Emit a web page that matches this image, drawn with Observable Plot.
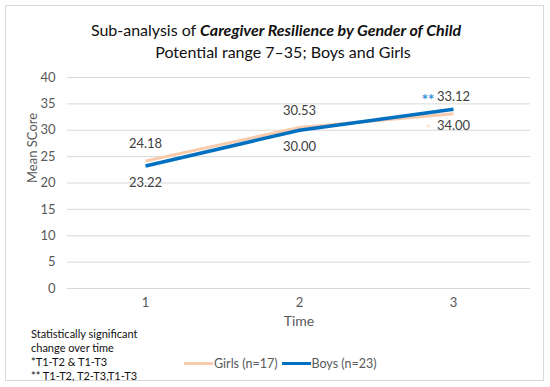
<!DOCTYPE html>
<html>
<head>
<meta charset="utf-8">
<script src="https://cdn.jsdelivr.net/npm/d3@7"></script>
<script src="https://cdn.jsdelivr.net/npm/@observablehq/plot@0.6"></script>
<style>
  html, body { margin: 0; padding: 0; background: #fff; }
  #wrap { position: relative; width: 550px; height: 387px; font-family: Lato, "Open Sans", sans-serif; overflow: hidden; }
  #frame { position: absolute; left: 5px; top: 5px; width: 539px; height: 376px; border: 1px solid #d9d9d9; box-sizing: border-box; }
  .title { position: absolute; left: 0; width: 550px; text-align: center; color: #111; font-size: 16px; white-space: nowrap; }
  #chart { position: absolute; left: 0; top: 62px; }
  #note { position: absolute; left: 31px; top: 327px; font-size: 11px; line-height: 14px; color: #111; }
  #legend { position: absolute; left: 184px; top: 356px; font-size: 12.5px; color: #595959; display: flex; align-items: center; white-space: nowrap; }
  .sw { display: inline-block; width: 29px; height: 3px; margin-right: 1px; }
</style>
</head>
<body>
<div id="wrap">
  <div id="frame"></div>
  <div class="title" style="top:20px; left:1px">Sub-analysis of <b><i>Caregiver Resilience by Gender of Child</i></b></div>
  <div class="title" style="top:42px; left:8px">Potential range 7–35; Boys and Girls</div>
  <div id="chart"></div>
  <div id="note"></div>
  <div id="legend"></div>
</div>
<script>
const times = [1, 2, 3];
const girls = [24.18, 30.53, 33.12];
const boys = [23.22, 30.00, 34.00];
const yTicks = [0, 5, 10, 15, 20, 25, 30, 35, 40];
const seriesNames = ["Girls (n=17)", "Boys (n=23)"];
const seriesColors = ["#F8CBAD", "#0070C0"];
const starsGirls = ["", "", "**"];
const starsBoys = ["", "", "*"];
const noteLines = ["Statistically significant", "change over time", "*T1-T2 & T1-T3", "** T1-T2, T2-T3,T1-T3"];

const girlsRows = times.map((t, i) => ({time: t, value: girls[i], star: starsGirls[i]}));
const boysRows = times.map((t, i) => ({time: t, value: boys[i], star: starsBoys[i]}));

const chart = Plot.plot({
  width: 550, height: 275,
  marginTop: 15, marginBottom: 49, marginLeft: 67, marginRight: 20,
  style: {fontFamily: "Lato, 'Open Sans', sans-serif", background: "transparent", overflow: "visible"},
  x: {type: "point", domain: times, padding: 0.5, label: null},
  y: {domain: [0, 40], label: null},
  marks: [
    Plot.gridY(yTicks, {stroke: "#d9d9d9", strokeOpacity: 1}),
    Plot.axisY(yTicks, {tickSize: 0, tickPadding: 12, fontSize: 13, fill: "#595959", label: null}),
    Plot.axisX(times, {tickSize: 0, tickPadding: 9, fontSize: 13, fill: "#595959", label: null}),
    Plot.lineY(girlsRows, {x: "time", y: "value", stroke: seriesColors[0], strokeWidth: 3, strokeLinecap: "butt"}),
    Plot.lineY(boysRows, {x: "time", y: "value", stroke: seriesColors[1], strokeWidth: 3.5, strokeLinecap: "butt"}),
    Plot.text(girlsRows, {x: "time", y: "value", text: d => d.value.toFixed(2), dy: -17, fontSize: 13, fill: "#404040"}),
    Plot.text(boysRows, {x: "time", y: "value", text: d => d.value.toFixed(2), dy: 17, fontSize: 13, fill: "#404040"}),
    Plot.text(girlsRows, {x: "time", y: "value", text: "star", dy: -14, dx: -19, textAnchor: "end", fontSize: 15, fontWeight: "bold", fill: "#2E8FD8"}),
    Plot.text(boysRows, {x: "time", y: "value", text: "star", dy: 20, dx: -22, textAnchor: "end", fontSize: 14, fill: "#FBE3D3"}),
    Plot.text(["Time"], {frameAnchor: "bottom", dy: 37, text: d => d, fontSize: 14, fill: "#595959"}),
    Plot.text(["Mean SCore"], {frameAnchor: "left", dx: -35, rotate: -90, text: d => d, fontSize: 13, fill: "#595959"})
  ]
});
document.getElementById("chart").appendChild(chart);

document.getElementById("note").innerHTML = noteLines.map(s => `<div>${s}</div>`).join("");
document.getElementById("legend").innerHTML = seriesNames.map((n, i) =>
  `<span class="sw" style="background:${seriesColors[i]}"></span><span style="margin-right:4px">${n}</span>`).join("");
</script>
</body>
</html>
